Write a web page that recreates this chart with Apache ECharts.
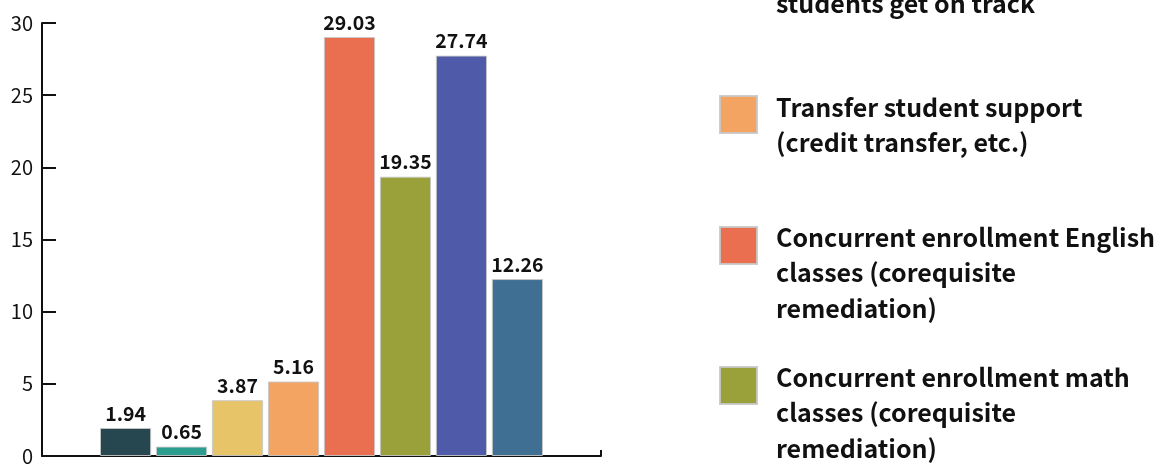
<!DOCTYPE html>
<html>
<head>
<meta charset="utf-8">
<script src="https://cdn.jsdelivr.net/npm/echarts@6/dist/echarts.min.js"></script>
<style>
html,body{margin:0;padding:0;background:#fff;}
#chart{width:1159px;height:466px;}
</style>
</head>
<body>
<div id="chart"></div>
<script>
// ---- data ----
const seriesNames = [
  "Multiple measures placement\n(high school GPA, etc.)",
  "Early alert systems for\nstruggling students",
  "Proactive advising to help\nstudents get on track",
  "Transfer student support\n(credit transfer, etc.)",
  "Concurrent enrollment English\nclasses (corequisite\nremediation)",
  "Concurrent enrollment math\nclasses (corequisite\nremediation)",
  "Guided pathways and\nprogram maps",
  "Other student success\ninitiatives"
];
const seriesValues = [1.94, 0.65, 3.87, 5.16, 29.03, 19.35, 27.74, 12.26];
const seriesColors = ["#26474f", "#2a9d8f", "#e8c468", "#f4a462", "#ea6f50", "#9aa03a", "#4f5aa8", "#3f7094"];
const category = ["All"];
const yTicks = { min: 0, max: 30, interval: 5 };

const FONT = '"Noto Sans CJK SC", "Noto Sans", sans-serif';

// legend placement (one legend component per series)
const legendTops = [-360, -215, -70, 68.75, 165.25, 305.25, 520, 640];
const legendPadTop = [20.5, 20.5, 20.5, 20.5, 54, 54, 20.5, 20.5];

const chart = echarts.init(document.getElementById('chart'));

const series = seriesNames.map((name, i) => ({
  name: name,
  type: 'bar',
  data: [seriesValues[i]],
  barGap: '9.4%',
  barCategoryGap: '20.75%',
  itemStyle: { color: seriesColors[i], borderColor: 'rgba(200,200,200,0.9)', borderWidth: 1 },
  label: {
    show: true,
    position: 'top',
    distance: 5,
    fontFamily: FONT,
    fontWeight: 'bold',
    fontSize: 19.5,
    color: '#111'
  }
}));

const legends = seriesNames.map((name, i) => ({
  data: [name],
  orient: 'vertical',
  left: 719,
  top: legendTops[i],
  padding: 0,
  itemWidth: 37,
  itemHeight: 37,
  itemGap: 0,
  selectedMode: false,
  icon: 'rect',
  formatter: n => '{p| }\n' + n.split('\n').map(l => '{t|' + l + '}').join('\n'),
  textStyle: {
    fontFamily: FONT,
    fontWeight: 600,
    fontSize: 25,
    lineHeight: 35.5,
    color: '#111',
    rich: {
      p: { fontSize: 1, lineHeight: legendPadTop[i] },
      t: {
        fontFamily: FONT,
        fontWeight: 600,
        fontSize: 25,
        lineHeight: 35.5,
        color: '#111',
        padding: [0, 0, 0, 14]
      }
    }
  }
}));

chart.setOption({
  animation: false,
  backgroundColor: '#fff',
  grid: { left: 42, right: 558, top: 23, bottom: 8, containLabel: false },
  legend: legends,
  xAxis: {
    type: 'category',
    data: category,
    axisLine: { show: true, lineStyle: { color: '#111', width: 2 } },
    axisTick: { show: true, inside: true, length: 6, lineStyle: { color: '#111', width: 2 } },
    axisLabel: { show: false }
  },
  yAxis: {
    type: 'value',
    min: yTicks.min,
    max: yTicks.max,
    interval: yTicks.interval,
    splitLine: { show: false },
    axisLine: { show: true, lineStyle: { color: '#111', width: 2 } },
    axisTick: { show: true, inside: true, length: 14, lineStyle: { color: '#111', width: 2 } },
    axisLabel: { fontFamily: FONT, fontSize: 20, color: '#111', margin: 9 }
  },
  series: series
});
</script>
</body>
</html>
